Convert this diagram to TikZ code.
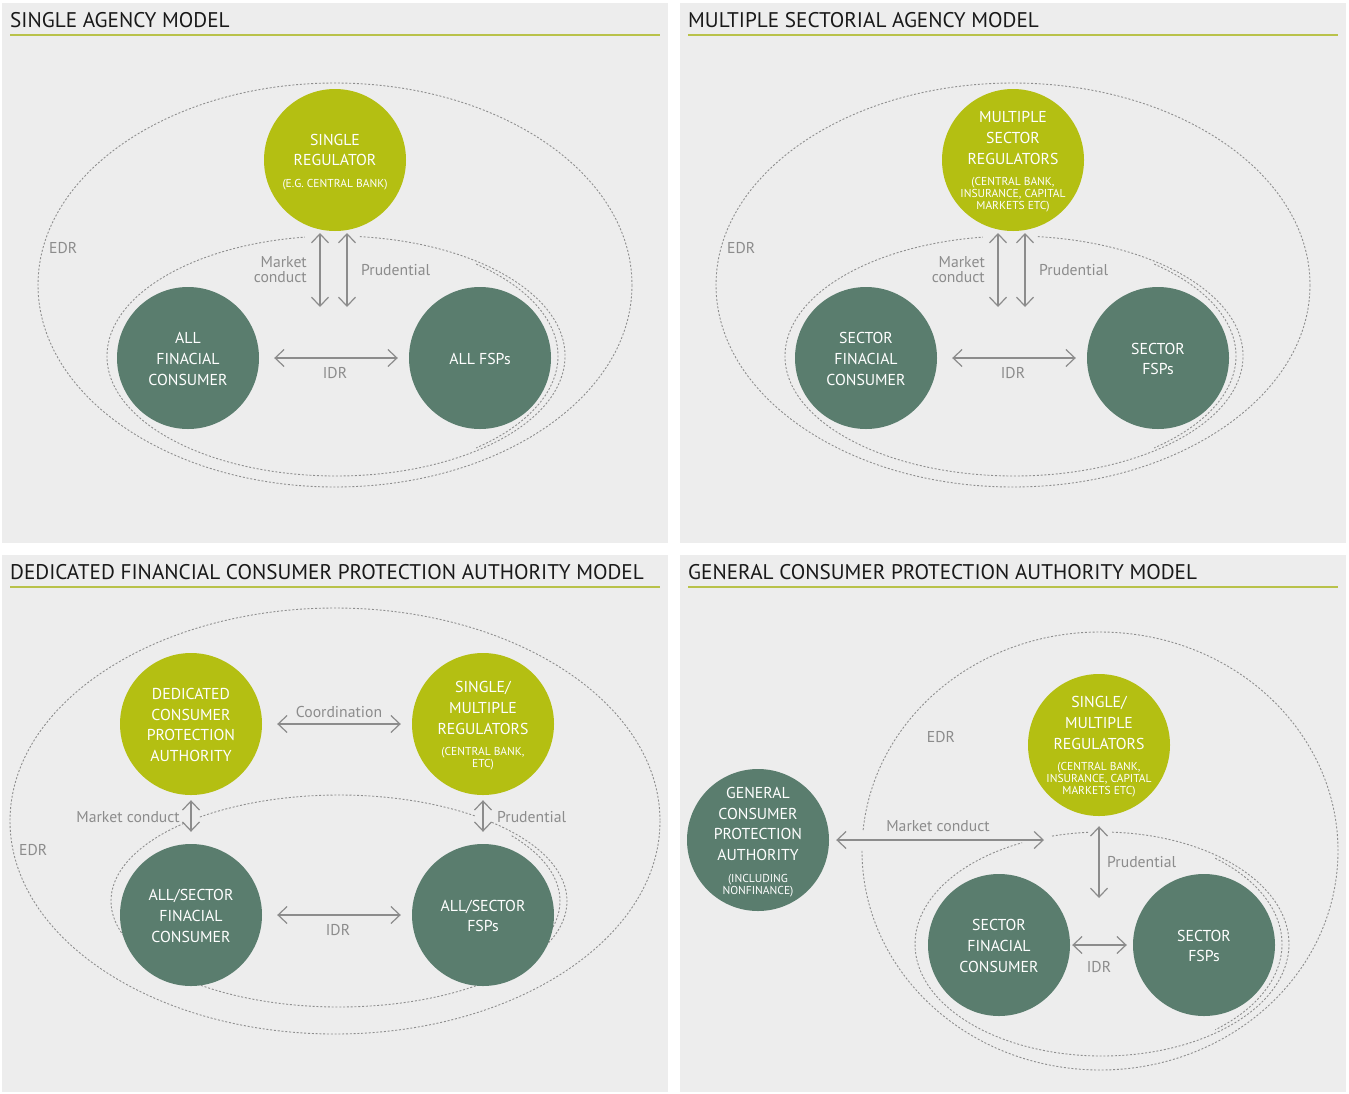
\documentclass[tikz,border=0pt]{standalone}
\usepackage{fontspec}
\setmainfont{PT Sans}
\usetikzlibrary{arrows.meta}

\definecolor{panelgray}{HTML}{EDEDED}
\definecolor{regulator}{HTML}{B4BF12}
\definecolor{consumer}{HTML}{5A7D6E}
\definecolor{rulegreen}{HTML}{B9C24A}
\definecolor{linegray}{HTML}{8E8E8E}
\definecolor{labelgray}{HTML}{8C8C8C}

\newcommand{\sm}{\fontsize{11.5}{12}\selectfont}

\begin{document}
\begin{tikzpicture}[x = 1pt, y = -1pt, > = {Straight Barb[length = 9pt, width = 17pt]},
	panel/.style = {fill = panelgray},
	heading/.style = {anchor = base west, inner sep = 0pt, font = \fontsize{21.2}{24}\selectfont, text = black!90},
	rule/.style = {rulegreen, line width = 1.2pt},
	edr/.style = {linegray, line width = 0.9pt, dash pattern = on 2pt off 1.8pt},
	light/.style = {circle, fill = regulator, minimum size = 142pt, inner sep = 0pt},
	dark/.style = {circle, fill = consumer, minimum size = 142pt, inner sep = 0pt},
	ctext/.style = {align = center, text = white, font = \fontsize{15.8}{20.7}\selectfont, inner sep = 0pt},
	lbl/.style = {text = labelgray, font = \fontsize{15.7}{15}\selectfont, inner sep = 0pt},
	link/.style = {<->, labelgray, line width = 1.2pt}]

	\useasboundingbox (0, 0) rectangle (1349, 1093);

	% Panels

	\fill [panel] (2, 3) rectangle (668, 543);
	\fill [panel] (680, 3) rectangle (1346, 543);
	\fill [panel] (2, 555) rectangle (668, 1092);
	\fill [panel] (680, 555) rectangle (1346, 1092);

	% Headings

	\node [heading] (title1) at (10, 27) {SINGLE AGENCY MODEL};
	\node [heading] (title2) at (688, 27) {MULTIPLE SECTORIAL AGENCY MODEL};
	\node [heading] (title3) at (10, 579) {DEDICATED FINANCIAL CONSUMER PROTECTION AUTHORITY MODEL};
	\node [heading] (title4) at (688, 579) {GENERAL CONSUMER PROTECTION AUTHORITY MODEL};
	\draw [rule] (10, 35) -- (660, 35);
	\draw [rule] (688, 35) -- (1338, 35);
	\draw [rule] (10, 587) -- (660, 587);
	\draw [rule] (688, 587) -- (1338, 587);

	% Single agency model

	\draw [edr] (335, 285) circle [x radius = 297, y radius = 202];
	\draw [edr] ([shift = {(276:229 and 120)}] 336, 356) arc [start angle = 276, end angle = 622.2, x radius = 229, y radius = 120];
	\draw [edr] ([shift = {(-50:229 and 120)}] 329, 356) arc [start angle = -50, end angle = 50, x radius = 229, y radius = 120];

	\node [light] (reg1) at (335, 160) {};
	\node [dark] (cons1) at (188, 358) {};
	\node [dark] (fsp1) at (480, 358) {};
	\node [ctext] (reg1 text) at (335, 162) {SINGLE\\REGULATOR\\[1pt]\sm (E.G. CENTRAL BANK)};
	\node [ctext] (cons1 text) at (188, 359) {ALL\\FINACIAL\\CONSUMER};
	\node [ctext] (fsp1 text) at (480, 359) {ALL FSPs};

	\coordinate (mc1 top) at (320, 233);
	\coordinate (mc1 bot) at (320, 307);
	\coordinate (pr1 top) at (347, 233);
	\coordinate (pr1 bot) at (347, 307);
	\draw [link] (mc1 top) -- (mc1 bot);
	\draw [link] (pr1 top) -- (pr1 bot);
	\draw [link, shorten <= 15pt, shorten >= 11pt] (cons1) -- (fsp1);

	\node [lbl, anchor = east, align = right] (mc1) at (307, 270) {Market\\conduct};
	\node [lbl, anchor = west] (pr1) at (361, 270) {Prudential};
	\node [lbl] (idr1) at (335, 373) {IDR};
	\node [lbl, anchor = west] (edr1) at (49, 248) {EDR};

	% Multiple sectorial agency model

	\begin{scope}[shift = {(678, 0)}]
	\draw [edr] (335, 285) circle [x radius = 297, y radius = 202];
	\draw [edr] ([shift = {(276:229 and 120)}] 336, 356) arc [start angle = 276, end angle = 622.2, x radius = 229, y radius = 120];
	\draw [edr] ([shift = {(-50:229 and 120)}] 329, 356) arc [start angle = -50, end angle = 50, x radius = 229, y radius = 120];

	\node [light] (reg2) at (335, 160) {};
	\node [dark] (cons2) at (188, 358) {};
	\node [dark] (fsp2) at (480, 358) {};
	\node [ctext] (reg2 text) at (335, 162) {MULTIPLE\\SECTOR\\REGULATORS\\[1pt]\sm (CENTRAL BANK,\\[-8.7pt]\sm INSURANCE, CAPITAL\\[-8.7pt]\sm MARKETS ETC)};
	\node [ctext] (cons2 text) at (188, 359) {SECTOR\\FINACIAL\\CONSUMER};
	\node [ctext] (fsp2 text) at (480, 359) {SECTOR\\FSPs};

	\coordinate (mc2 top) at (320, 233);
	\coordinate (mc2 bot) at (320, 307);
	\coordinate (pr2 top) at (347, 233);
	\coordinate (pr2 bot) at (347, 307);
	\draw [link] (mc2 top) -- (mc2 bot);
	\draw [link] (pr2 top) -- (pr2 bot);
	\draw [link, shorten <= 15pt, shorten >= 11pt] (cons2) -- (fsp2);

	\node [lbl, anchor = east, align = right] (mc2) at (307, 270) {Market\\conduct};
	\node [lbl, anchor = west] (pr2) at (361, 270) {Prudential};
	\node [lbl] (idr2) at (335, 373) {IDR};
	\node [lbl, anchor = west] (edr2) at (49, 248) {EDR};
	\end{scope}

	% Dedicated financial consumer protection authority model

	\draw [edr] (335, 821) circle [x radius = 325, y radius = 213];
	\draw [edr] ([shift = {(232.4:228 and 106)}] 339, 901) arc [start angle = 232.4, end angle = 306.9, x radius = 228, y radius = 106];
	\draw [edr] ([shift = {(312.1:228 and 106)}] 339, 901) arc [start angle = 312.1, end angle = 587.2, x radius = 228, y radius = 106];
	\draw [edr] ([shift = {(-38:228 and 106)}] 332, 901) arc [start angle = -38, end angle = 50, x radius = 228, y radius = 106];

	\node [light] (ded3) at (191, 724) {};
	\node [light] (reg3) at (483, 724) {};
	\node [dark] (cons3) at (191, 915) {};
	\node [dark] (fsp3) at (483, 915) {};
	\node [ctext] (ded3 text) at (191, 725) {DEDICATED\\CONSUMER\\PROTECTION\\AUTHORITY};
	\node [ctext] (reg3 text) at (483, 726) {SINGLE/\\MULTIPLE\\REGULATORS\\[1pt]\sm (CENTRAL BANK,\\[-8.7pt]\sm ETC)};
	\node [ctext] (cons3 text) at (191, 916) {ALL/SECTOR\\FINACIAL\\CONSUMER};
	\node [ctext] (fsp3 text) at (483, 916) {ALL/SECTOR\\FSPs};

	\draw [link, shorten <= 15pt, shorten >= 11pt] (ded3) -- (reg3);
	\draw [link, shorten <= 15pt, shorten >= 11pt] (cons3) -- (fsp3);
	\draw [link, shorten <= 5pt, shorten >= 12pt] (ded3) -- (cons3);
	\draw [link, shorten <= 5pt, shorten >= 12pt] (reg3) -- (fsp3);

	\node [lbl] (coord3) at (339, 712) {Coordination};
	\node [lbl] (idr3) at (338, 930) {IDR};
	\node [lbl, anchor = east] (mc3) at (180, 817) {Market conduct};
	\node [lbl, anchor = west] (pr3) at (497, 817) {Prudential};
	\node [lbl, anchor = west] (edr3) at (19, 850) {EDR};

	% General consumer protection authority model

	\draw [edr] ([shift = {(185.5:238 and 219)}] 1100, 851) arc [start angle = 185.5, end angle = 540.3, x radius = 238, y radius = 219];
	\draw [edr] ([shift = {(254.5:187 and 112)}] 1102, 944) arc [start angle = 254.5, end angle = 265.7, x radius = 187, y radius = 112];
	\draw [edr] ([shift = {(273.1:187 and 112)}] 1102, 944) arc [start angle = 273.1, end angle = 604.7, x radius = 187, y radius = 112];
	\draw [edr] ([shift = {(-50:187 and 112)}] 1095, 944) arc [start angle = -50, end angle = 50, x radius = 187, y radius = 112];

	\node [dark] (gen4) at (758, 840) {};
	\node [light] (reg4) at (1099, 745) {};
	\node [dark] (cons4) at (999, 945) {};
	\node [dark] (fsp4) at (1204, 945) {};
	\node [ctext] (gen4 text) at (758, 842) {GENERAL\\CONSUMER\\PROTECTION\\AUTHORITY\\[1pt]\sm (INCLUDING\\[-8.7pt]\sm NONFINANCE)};
	\node [ctext] (reg4 text) at (1099, 747) {SINGLE/\\MULTIPLE\\REGULATORS\\[1pt]\sm (CENTRAL BANK,\\[-8.7pt]\sm INSURANCE, CAPITAL\\[-8.7pt]\sm MARKETS ETC)};
	\node [ctext] (cons4 text) at (999, 946) {SECTOR\\FINACIAL\\CONSUMER};
	\node [ctext] (fsp4 text) at (1204, 946) {SECTOR\\FSPs};

	\coordinate (mc4 end) at (1044, 840);
	\coordinate (pr4 end) at (1099, 898);
	\draw [link, shorten <= 7pt] (gen4) -- (mc4 end);
	\draw [link, shorten <= 10pt] (reg4) -- (pr4 end);
	\draw [link, shorten <= 2pt, shorten >= 6pt] (cons4) -- (fsp4);

	\node [lbl] (mc4) at (938, 826) {Market conduct};
	\node [lbl, anchor = west] (pr4) at (1107, 862) {Prudential};
	\node [lbl] (idr4) at (1099, 967) {IDR};
	\node [lbl] (edr4) at (941, 737) {EDR};

\end{tikzpicture}
\end{document}
